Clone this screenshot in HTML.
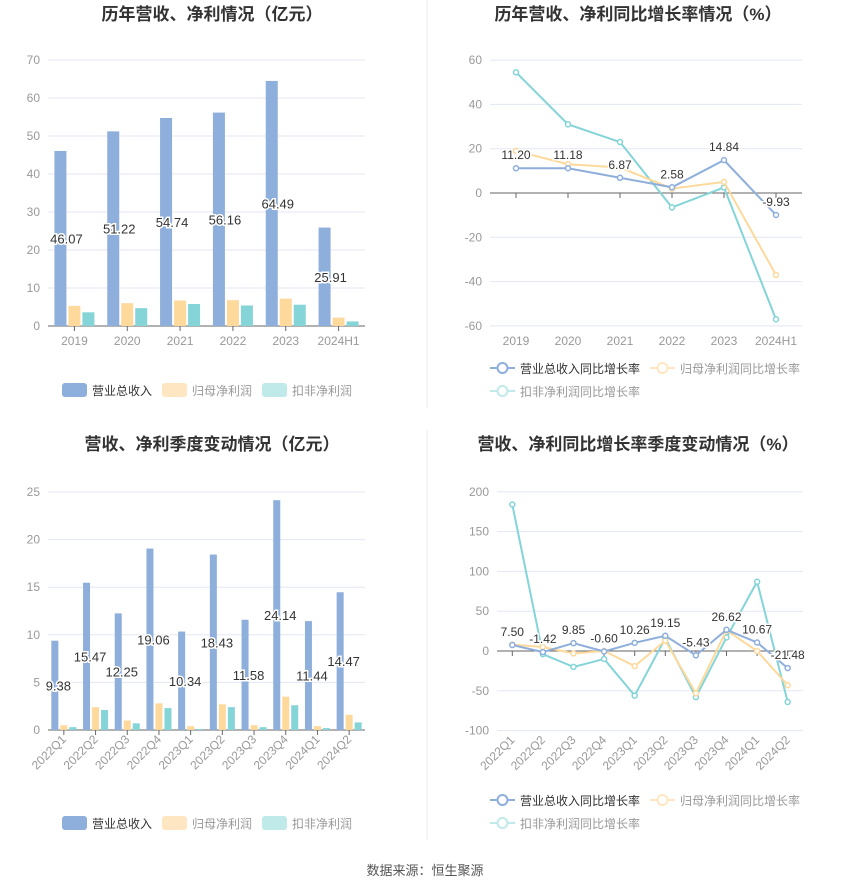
<!DOCTYPE html>
<html><head><meta charset="utf-8"><style>
body{margin:0;background:#fff;font-family:"Liberation Sans","Noto Sans CJK SC",sans-serif}
svg text{font-family:"Liberation Sans","Noto Sans CJK SC",sans-serif}
</style></head><body>
<svg id="s" width="850" height="891" xmlns="http://www.w3.org/2000/svg">
<line x1="427" y1="0" x2="427" y2="408" stroke="#eee"/>
<line x1="427" y1="430" x2="427" y2="840" stroke="#eee"/>
<text x="212" y="20" text-anchor="middle" font-size="17" font-weight="bold" fill="#333">历年营收、净利情况（亿元）</text>
<text x="638" y="20" text-anchor="middle" font-size="17" font-weight="bold" fill="#333">历年营收、净利同比增长率情况（%）</text>
<text x="212" y="450" text-anchor="middle" font-size="17" font-weight="bold" fill="#333">营收、净利季度变动情况（亿元）</text>
<text x="638" y="450" text-anchor="middle" font-size="17" font-weight="bold" fill="#333">营收、净利同比增长率季度变动情况（%）</text>
<text x="425" y="875" text-anchor="middle" font-size="13" fill="#555">数据来源：恒生聚源</text>
</svg>
<script>
const yearCats=["2019","2020","2021","2022","2023","2024H1"];
const yearRev=[46.07,51.22,54.74,56.16,64.49,25.91];
const yearNP=[5.3,6.0,6.7,6.8,7.2,2.2];
const yearKF=[3.6,4.7,5.8,5.4,5.6,1.2];
const yearRevG=[11.20,11.18,6.87,2.58,14.84,-9.93];
const yearNPG=[19,13,11.5,2,5,-37];
const yearKFG=[54.5,31,23,-6.5,2.5,-57];
const qCats=["2022Q1","2022Q2","2022Q3","2022Q4","2023Q1","2023Q2","2023Q3","2023Q4","2024Q1","2024Q2"];
const qRev=[9.38,15.47,12.25,19.06,10.34,18.43,11.58,24.14,11.44,14.47];
const qNP=[0.5,2.4,1.0,2.8,0.4,2.7,0.5,3.5,0.4,1.6];
const qKF=[0.3,2.1,0.7,2.3,0.1,2.4,0.3,2.6,0.2,0.8];
const qRevG=[7.50,-1.42,9.85,-0.60,10.26,19.15,-5.43,26.62,10.67,-21.48];
const qNPG=[8,5,-3,0,-19,13,-53,26,0,-43];
const qKFG=[184,-4,-20,-10,-56,16,-58,17,87,-64];
const ticks1=[0,10,20,30,40,50,60,70],ticks2=[-60,-40,-20,0,20,40,60],ticks3=[0,5,10,15,20,25],ticks4=[-100,-50,0,50,100,150,200];
const C1="#8eaedb",C2="#fdd99b",C3="#84d4d8";
const S=document.getElementById('s');
function el(t,a,txt){const e=document.createElementNS("http://www.w3.org/2000/svg",t);for(const k in a)e.setAttribute(k,a[k]);if(txt!=null)e.textContent=txt;S.appendChild(e);return e;}
function axes(x0,x1,yScale,ticks,cats,rot,pfx){
  ticks.forEach(t=>{const y=yScale(t);
    const g=el("line",{x1:x0,x2:x1,y1:y,y2:y,stroke:t===0?"#666":"#e3e7f3"});
    
    
    const l=el("text",{x:x0-8,y:y+4,"text-anchor":"end","font-size":12,fill:"#999"},t);
    
    
  });
  const w=(x1-x0)/cats.length, y0=yScale(0);
  cats.forEach((c,i)=>{const cx=x0+w*(i+.5);
    el("line",{x1:cx,x2:cx,y1:y0,y2:y0+5,stroke:"#666"});
    let l;
    if(rot){l=el("text",{x:cx+3,y:ticks[0]<0?yScale(ticks[0])+10:y0+10,"text-anchor":"end","font-size":12,fill:"#999",transform:`rotate(-45 ${cx+3} ${ticks[0]<0?yScale(ticks[0])+10:y0+10})`},c);}
    else l=el("text",{x:cx,y:(ticks[0]<0?yScale(ticks[0]):y0)+19,"text-anchor":"middle","font-size":12,fill:"#999"},c);
    
    
  });
  return w;
}
function bars(x0,x1,yS,cats,ser,bw,pfx,labels){
  const w=(x1-x0)/cats.length,cols=[C1,C2,C3],y0=yS(0);
  cats.forEach((c,i)=>{const cx=x0+w*(i+.5);
    ser.forEach((s,j)=>{const x=cx-1.5*bw-2+j*(bw+2);const y=yS(s[i]);
      const r=el("rect",{x:x,y:y,width:bw,height:y0-y,fill:cols[j]});
      
      
    });
    const v=ser[0][i],lx=cx-bw-2+bw/2,ly=(yS(v)+y0)/2+5;
    const t=el("text",{x:lx,y:ly,"text-anchor":"middle","font-size":13,fill:"#333",stroke:"#fff","stroke-width":3,"paint-order":"stroke"},v.toFixed(2));
    
    
  });
}
function lines(x0,x1,yS,cats,ser,pfx,lab){
  const w=(x1-x0)/cats.length,cols=[C1,C2,C3];
  [2,1,0].forEach(j=>{const s=ser[j];
    const pts=s.map((v,i)=>(x0+w*(i+.5))+","+yS(v)).join(" ");
    const p=el("polyline",{points:pts,fill:"none",stroke:cols[j],"stroke-width":2});
    
    
    s.forEach((v,i)=>{const c=el("circle",{cx:x0+w*(i+.5),cy:yS(v),r:2.5,fill:"#fff",stroke:cols[j],"stroke-width":1.5});
      
      });
  });
  ser[0].forEach((v,i)=>{const t=el("text",{x:x0+w*(i+.5),y:yS(v)-9,"text-anchor":"middle","font-size":12,fill:"#333",stroke:"#fff","stroke-width":3,"paint-order":"stroke"},v.toFixed(2));
    
    });
}
function legendBar(y,pfx){const items=[["营业总收入","#8eaedb","#333"],["归母净利润","#ffe6c2","#999"],["扣非净利润","#c0e9ea","#999"]];
  let x=62;items.forEach((it,i)=>{const r=el("rect",{x:x,y:y-7,width:25,height:14,rx:3,fill:it[1]});
    
    
    const t=el("text",{x:x+30,y:y+5,"font-size":12,fill:it[2]},it[0]);
    
    
    x+=100;});}
function legendLine(y,pfx){const items=[["营业总收入同比增长率",C1,"#333",490,y],["归母净利润同比增长率","#ffe6c2","#999",650,y],["扣非净利润同比增长率","#c0e9ea","#999",490,y+23]];
  items.forEach(it=>{const l=el("line",{x1:it[3],x2:it[3]+25,y1:it[4],y2:it[4],stroke:it[1],"stroke-width":2});
    
    
    const c=el("circle",{cx:it[3]+12.5,cy:it[4],r:5,fill:"#fff",stroke:it[1],"stroke-width":2});
    
    
    const t=el("text",{x:it[3]+30,y:it[4]+5,"font-size":12,fill:it[2]},it[0]);
    
    });}
// chart1
const y1=v=>326-v*3.8;
axes(48,365,y1,ticks1,yearCats,false,"c1");
bars(48,365,y1,yearCats,[yearRev,yearNP,yearKF],12,"c1");
legendBar(390,"c1");
// chart2
const y2=v=>193-v*2.215;
axes(490,802,y2,ticks2,yearCats,false,"c2");
lines(490,802,y2,yearCats,[yearRevG,yearNPG,yearKFG],"c2");
legendLine(368,"c2");
// chart3
const y3=v=>730-v*9.52;
axes(48,365,y3,ticks3,qCats,true,"c3");
bars(48,365,y3,qCats,[qRev,qNP,qKF],7,"c3");
legendBar(823,"c3");
// chart4
const y4=v=>651-v*0.796;
axes(497,803,y4,ticks4,qCats,true,"c4");
lines(497,803,y4,qCats,[qRevG,qNPG,qKFG],"c4");
legendLine(800,"c4");
</script>
</body></html>
